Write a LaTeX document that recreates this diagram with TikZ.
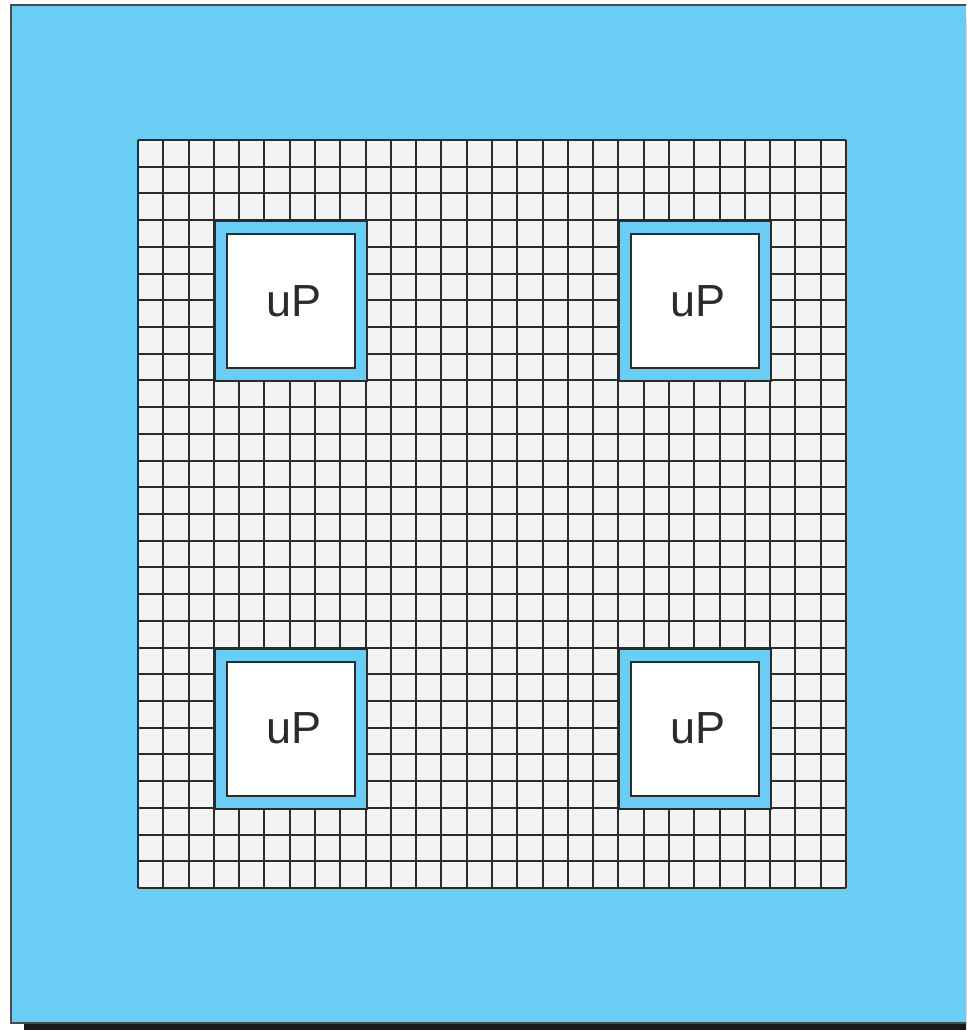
\documentclass[tikz,border=0pt]{standalone}
\usepackage{fontspec}
\setsansfont{Liberation Sans}
\usetikzlibrary{positioning,calc}
\definecolor{chipblue}{HTML}{69CDF4}
\definecolor{cellgrey}{HTML}{F3F3F3}
\definecolor{ruledark}{HTML}{2B2B2B}

\begin{document}
\begin{tikzpicture}[
  x=0.025cm, y=-0.025cm,
  font=\sffamily,
  board/.style={fill=chipblue, draw=ruledark!85, line width=1.1pt},
  shade/.style={fill=black!90},
  cell/.style={draw=ruledark, line width=1.4pt},
  well/.style={fill=chipblue, draw=ruledark, line width=1.4pt, inner sep=0pt,
               minimum width=3.793cm, minimum height=4.007cm},
  cpu/.style={draw=ruledark, line width=1.2pt, fill=white, inner sep=0pt,
              minimum width=3.2cm, minimum height=3.35cm, text=ruledark,
              font=\fontsize{32}{36}\selectfont\sffamily},
]
\useasboundingbox (0,0) rectangle (966,1030);
\clip (0,0) rectangle (966,1030);

% ---------------- board --------------------------------------------
\fill[shade] (24,18) rectangle (1000,1040);
\draw[board] (11,5) rectangle (1000,1023);

% ---------------- gate array ---------------------------------------
\def\cw{25.2857}
\def\ch{26.7143}
\fill[cellgrey] (138,140) rectangle (846,888);
\foreach \i in {0,...,28} {
  \draw[cell] (138+\i*\cw,140) -- (138+\i*\cw,888);
  \draw[cell] (138,140+\i*\ch) -- (846,140+\i*\ch);
}

% ---------------- embedded processors ------------------------------
\foreach \c/\r/\n in {3/3/a, 19/3/b, 3/19/c, 19/19/d} {
  \node[well, anchor=north west] (well\n) at (138+\c*\cw,140+\r*\ch) {};
  \node[cpu] (cpu\n) at (well\n.center) {\hspace*{4pt}uP};
}

\end{tikzpicture}
\end{document}
